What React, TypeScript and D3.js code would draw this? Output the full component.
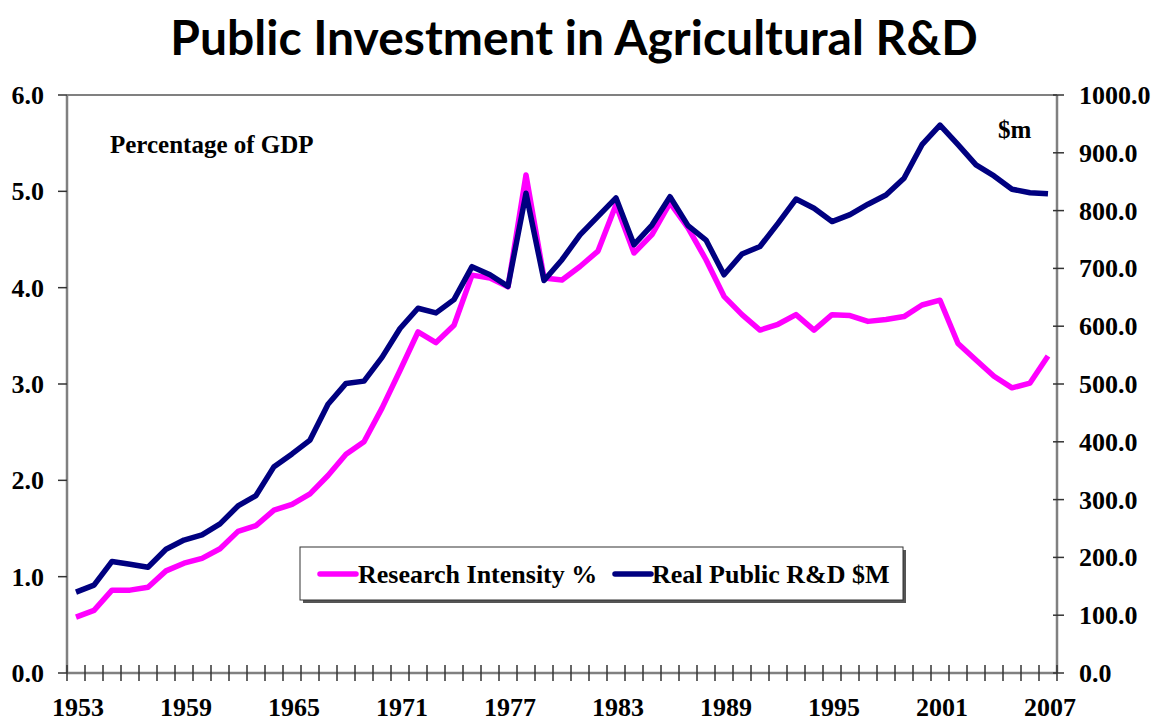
import React from "react";
import * as d3 from "d3";

const years: number[] = d3.range(1953, 2008);

// Research Intensity % (left axis)
const intensity: number[] = [
  0.58, 0.65, 0.86, 0.86, 0.89, 1.06, 1.14, 1.19, 1.29, 1.47,
  1.53, 1.69, 1.75, 1.86, 2.05, 2.27, 2.4, 2.75, 3.14, 3.54,
  3.43, 3.61, 4.13, 4.1, 4.01, 5.17, 4.1, 4.08, 4.22, 4.38,
  4.86, 4.36, 4.55, 4.88, 4.62, 4.29, 3.91, 3.72, 3.56, 3.62,
  3.72, 3.56, 3.72, 3.71, 3.65, 3.67, 3.7, 3.82, 3.87, 3.42,
  3.25, 3.08, 2.96, 3.01, 3.29,
];

// Real Public R&D $M (right axis)
const realRD: number[] = [
  140, 152, 193, 188, 183, 214, 230, 239, 258, 289,
  307, 357, 379, 403, 465, 501, 505, 546, 596, 631,
  623, 646, 703, 689, 669, 830, 679, 715, 758, 790,
  822, 741, 775, 824, 774, 749, 689, 725, 738, 778,
  820, 804, 781, 793, 811, 827, 856, 914, 948, 914,
  879, 860, 837, 831, 829,
];

const leftTicks: number[] = [0, 1, 2, 3, 4, 5, 6];
const rightTicks: number[] = [0, 100, 200, 300, 400, 500, 600, 700, 800, 900, 1000];
const yearLabels: number[] = [1953, 1959, 1965, 1971, 1977, 1983, 1989, 1995, 2001, 2007];

const seriesNames = ["Research Intensity %", "Real Public R&D $M"];
const colors = ["#FF00FF", "#000080"];

const W = 1153;
const H = 723;
const M = { left: 67, right: 1057, top: 95, bottom: 673 };
const FONT = "'Liberation Serif', 'Times New Roman', serif";
const AXIS = "#808080";

export default function App() {
  const x = d3.scaleBand<number>().domain(years).range([M.left, M.right]).padding(0);
  const cx = (yr: number) => (x(yr) as number) + x.bandwidth() / 2;
  const yL = d3.scaleLinear().domain([0, 6]).range([M.bottom, M.top]);
  const yR = d3.scaleLinear().domain([0, 1000]).range([M.bottom, M.top]);

  const lineL = d3
    .line<number>()
    .x((_, i) => cx(years[i]))
    .y((d) => yL(d))
    .curve(d3.curveLinear);
  const lineR = d3
    .line<number>()
    .x((_, i) => cx(years[i]))
    .y((d) => yR(d))
    .curve(d3.curveLinear);

  const boundaries = years.map((yr) => x(yr) as number).concat([M.right]);

  const lx = 300, ly = 547, lw = 603, lh = 53;

  return (
    <svg
      width={W}
      height={H}
      style={{ position: "absolute", left: 0, top: 0, background: "#fff" }}
      fontFamily={FONT}
    >
      <rect x={0} y={0} width={W} height={H} fill="#fff" />
      <text
        x={574}
        y={55}
        textAnchor="middle"
        fontFamily="Lato, 'Open Sans', sans-serif"
        fontWeight="bold"
        fontSize={48}
        fill="#000"
      >
        Public Investment in Agricultural R&amp;D
      </text>

      {/* plot frame */}
      <line x1={M.left} x2={M.right} y1={M.top} y2={M.top} stroke={AXIS} strokeWidth={2} />
      <line x1={M.left} x2={M.left} y1={M.top} y2={M.bottom} stroke={AXIS} strokeWidth={2.5} />
      <line x1={M.right} x2={M.right} y1={M.top} y2={M.bottom} stroke={AXIS} strokeWidth={2.5} />
      <line x1={M.left} x2={M.right} y1={M.bottom} y2={M.bottom} stroke={AXIS} strokeWidth={2.5} />

      {/* left ticks */}
      {leftTicks.map((t) => (
        <g key={"l" + t}>
          <line x1={M.left - 9} x2={M.left} y1={yL(t)} y2={yL(t)} stroke="#333" strokeWidth={1.5} />
          <text x={44} y={yL(t) + 9} textAnchor="end" fontSize={26} fontWeight="bold">
            {t.toFixed(1)}
          </text>
        </g>
      ))}

      {/* right ticks */}
      {rightTicks.map((t) => (
        <g key={"r" + t}>
          <line x1={M.right - 4} x2={M.right + 7} y1={yR(t)} y2={yR(t)} stroke="#333" strokeWidth={1.5} />
          <text x={1079} y={yR(t) + 9} textAnchor="start" fontSize={26} fontWeight="bold">
            {t.toFixed(1)}
          </text>
        </g>
      ))}

      {/* x ticks */}
      {boundaries.map((b, i) => (
        <line key={"x" + i} x1={b} x2={b} y1={M.bottom - 8} y2={M.bottom + 8} stroke="#333" strokeWidth={1.5} />
      ))}
      {yearLabels.map((yr) => (
        <text key={"y" + yr} x={cx(yr) + 2} y={716} textAnchor="middle" fontSize={26} fontWeight="bold">
          {yr}
        </text>
      ))}

      <text x={110} y={153} fontSize={25} fontWeight="bold">Percentage of GDP</text>
      <text x={998} y={138} fontSize={25} fontWeight="bold">$m</text>

      {/* series */}
      <path d={lineL(intensity) || ""} fill="none" stroke={colors[0]} strokeWidth={5.5} strokeLinejoin="round" />
      <path d={lineR(realRD) || ""} fill="none" stroke={colors[1]} strokeWidth={5.5} strokeLinejoin="round" />

      {/* legend */}
      <rect x={lx + 3} y={ly + 3} width={lw} height={lh} fill="#555" />
      <rect x={lx} y={ly} width={lw} height={lh} fill="#fff" stroke="#333" strokeWidth={1} />
      <line x1={320} x2={356} y1={574} y2={574} stroke={colors[0]} strokeWidth={5.5} strokeLinecap="round" />
      <text x={358} y={583} fontSize={26} fontWeight="bold">{seriesNames[0]}</text>
      <line x1={615} x2={651} y1={574} y2={574} stroke={colors[1]} strokeWidth={5.5} strokeLinecap="round" />
      <text x={652} y={583} fontSize={26} fontWeight="bold">{seriesNames[1]}</text>
    </svg>
  );
}
